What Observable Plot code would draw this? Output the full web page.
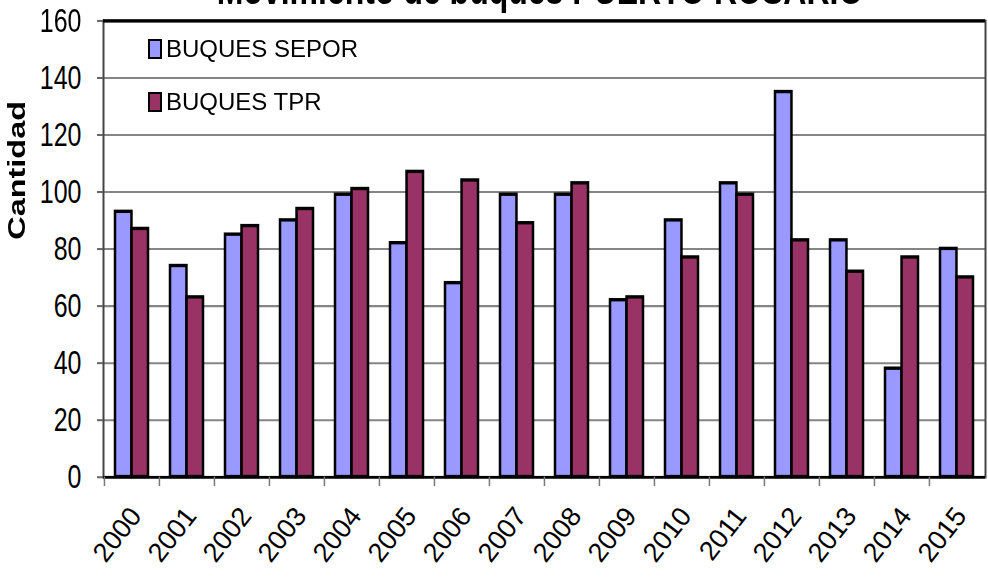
<!DOCTYPE html>
<html>
<head>
<meta charset="utf-8">
<script src="https://cdn.jsdelivr.net/npm/d3@7"></script>
<script src="https://cdn.jsdelivr.net/npm/@observablehq/plot@0.6"></script>
<style>
  html, body { margin: 0; padding: 0; background: #fff; overflow: hidden; }
  #wrap { position: relative; width: 988px; height: 577px; overflow: hidden; font-family: "Liberation Sans", Arial, sans-serif; }
  #stretch { position: absolute; left: 0; top: 0; width: 988px; transform-origin: 0 0; transform: scale(1, 1.35); }
  #title { position: absolute; left: 0; width: 1080px; top: -24px; text-align: center; font-weight: bold; font-size: 32px; line-height: 32px; color: #000; white-space: nowrap; }
  .leg { position: absolute; left: 148px; font-size: 24px; line-height: 24px; color: #000; display: flex; align-items: center; }
  .sw { width: 10px; height: 16px; border: 2px solid #000; margin-right: 4px; }
</style>
</head>
<body>
<div id="wrap">
  <div id="stretch">
    <div id="chart"></div>
    <div id="title">Movimiento de buques PUERTO ROSARIO</div>
  </div>
  <div class="leg" style="top:37px"><span class="sw" style="background:#9999FF"></span>BUQUES SEPOR</div>
  <div class="leg" style="top:90px"><span class="sw" style="background:#993366"></span>BUQUES TPR</div>
</div>
<script>
const years = ["2000","2001","2002","2003","2004","2005","2006","2007","2008","2009","2010","2011","2012","2013","2014","2015"];
const sepor = [93, 74, 85, 90, 99, 82, 68, 99, 99, 62, 90, 103, 135, 83, 38, 80];
const tpr   = [87, 63, 88, 94, 101, 107, 104, 89, 103, 63, 77, 99, 83, 72, 77, 70];
const yTicks = [0, 20, 40, 60, 80, 100, 120, 140, 160];

const SY = 1.35;
const W = 988, H = 427, mL = 103, mR = 3, mT = 15, mB = 74;
const step = (W - mL - mR) / years.length;
const half = step * 0.6 / 2;

const dataS = years.map((y, i) => ({year: y, value: sepor[i]}));
const dataT = years.map((y, i) => ({year: y, value: tpr[i]}));

const chart = Plot.plot({
  width: W, height: H,
  marginLeft: mL, marginRight: mR, marginTop: mT, marginBottom: mB,
  style: {fontFamily: "'Liberation Sans', Arial, sans-serif", background: "#fff", color: "#000", overflow: "visible"},
  x: {domain: years, paddingInner: 0.4, paddingOuter: 0.2, label: null},
  y: {domain: [0, 160], label: null},
  marks: [
    Plot.ruleY(yTicks, {stroke: "#858585", strokeWidth: 1.5}),
    Plot.barY(dataS, {x: "year", y: "value", fill: "#9999FF", stroke: "#000", strokeWidth: 2.5, insetRight: half}),
    Plot.barY(dataT, {x: "year", y: "value", fill: "#993366", stroke: "#000", strokeWidth: 2.5, insetLeft: half}),
    Plot.frame({stroke: "#444", strokeWidth: 2}),
    Plot.ruleY([160], {stroke: "#000", strokeWidth: 2.5}),
    Plot.ruleY([0], {stroke: "#000", strokeWidth: 2}),
    Plot.axisY(yTicks, {tickSize: 6, tickPadding: 16, fontSize: 25, stroke: "#666", strokeWidth: 1.5}),
    Plot.axisX(years, {tickSize: 7, text: null, dx: -step / 2, stroke: "#777", strokeWidth: 1.5}),
    Plot.axisX(years, {tickSize: 0, tickRotate: -45, tickPadding: 25, fontSize: 27, dx: 4, label: null, ariaLabel: "year-labels"}),
    Plot.text(["Cantidad"], {frameAnchor: "left", rotate: -90, dx: -86, dy: -7, fontSize: 24, fontWeight: "bold", fill: "#000"})
  ]
});
// undo the vertical stretch for the rotated year labels so they read as upright glyphs at a steeper angle
chart.querySelectorAll("text").forEach(t => {
  const tr = t.getAttribute("transform");
  if (tr && /rotate\(-45\)/.test(tr)) {
    t.setAttribute("transform", tr.replace(/rotate\(-45\)/, `scale(1,${1 / SY}) rotate(-52)`));
  }
});
document.getElementById("chart").appendChild(chart);
</script>
</body>
</html>
